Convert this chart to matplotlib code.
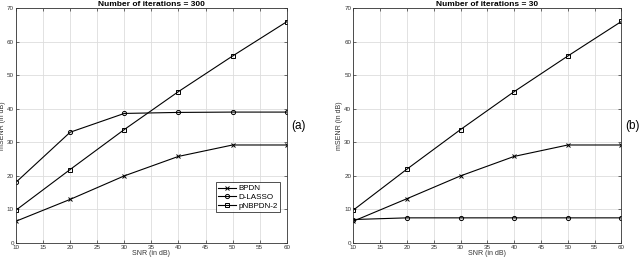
import matplotlib
matplotlib.use("Agg")
from matplotlib import pyplot as plt

snr = [10, 20, 30, 40, 50, 60]

# number of iterations = 300
bpdn_300 = [6.5, 13.0, 20.0, 25.8, 29.2, 29.2]
dlasso_300 = [18.1, 33.0, 38.6, 38.9, 39.0, 39.0]
pnbpdn_300 = [9.8, 21.9, 33.8, 45.1, 55.7, 65.9]

# number of iterations = 30
bpdn_30 = [6.5, 13.2, 20.0, 25.8, 29.2, 29.2]
dlasso_30 = [7.0, 7.5, 7.5, 7.5, 7.5, 7.5]
pnbpdn_30 = [9.8, 22.0, 33.8, 45.1, 55.7, 66.0]

titles = ["Number of iterations = 300", "Number of iterations = 30"]
tags = ["(a)", "(b)"]
labels = ["BPDN", "D-LASSO", "pNBPDN-2"]

plt.rcParams["font.family"] = "Liberation Sans"

fig = plt.figure(figsize=(6.4, 2.58), dpi=100)
ax1 = fig.add_axes([0.025, 0.058, 0.423, 0.911])
ax2 = fig.add_axes([0.552, 0.058, 0.419, 0.911])

data = [(bpdn_300, dlasso_300, pnbpdn_300), (bpdn_30, dlasso_30, pnbpdn_30)]
for ax, series, title, tag in zip([ax1, ax2], data, titles, tags):
    b, d, p = series
    ax.plot(snr, b, "k-", marker="x", ms=3, mew=0.7, lw=0.8, label=labels[0])
    ax.plot(snr, d, "k-", marker="o", ms=3, mfc="none", mew=0.7, lw=0.8, label=labels[1])
    ax.plot(snr, p, "k-", marker="s", ms=2.6, mfc="none", mew=0.7, lw=0.8, label=labels[2])
    ax.set_xlim(10, 60)
    ax.set_ylim(0, 70)
    ax.set_xticks(range(10, 61, 5))
    ax.set_yticks(range(0, 71, 10))
    ax.grid(True, color="#dddddd", lw=0.6)
    ax.set_axisbelow(True)
    ax.tick_params(direction="in", top=True, right=True, labelsize=4.5,
                   length=2.5, width=0.5, pad=1.5, colors="#333333")
    for s in ax.spines.values():
        s.set_linewidth(0.6)
        s.set_color("#333333")
    ax.set_title(title, fontsize=6, fontweight="bold", pad=1.5)
    ax.set_xlabel("SNR (in dB)", fontsize=5, labelpad=0, color="#333333")
    ax.set_ylabel("mSENR (in dB)", fontsize=5, labelpad=1, color="#333333")
    ax.text(1.016, 0.5, tag, transform=ax.transAxes, fontsize=8.5,
            ha="left", va="center")

leg = ax1.legend(loc="lower right", bbox_to_anchor=(0.975, 0.13), fontsize=5.8,
                 frameon=True, fancybox=False, edgecolor="black",
                 handlelength=2.2, borderpad=0.3, labelspacing=0.15,
                 handletextpad=0.3, borderaxespad=0)
leg.get_frame().set_linewidth(0.6)

fig.savefig("out.png", dpi=100)
